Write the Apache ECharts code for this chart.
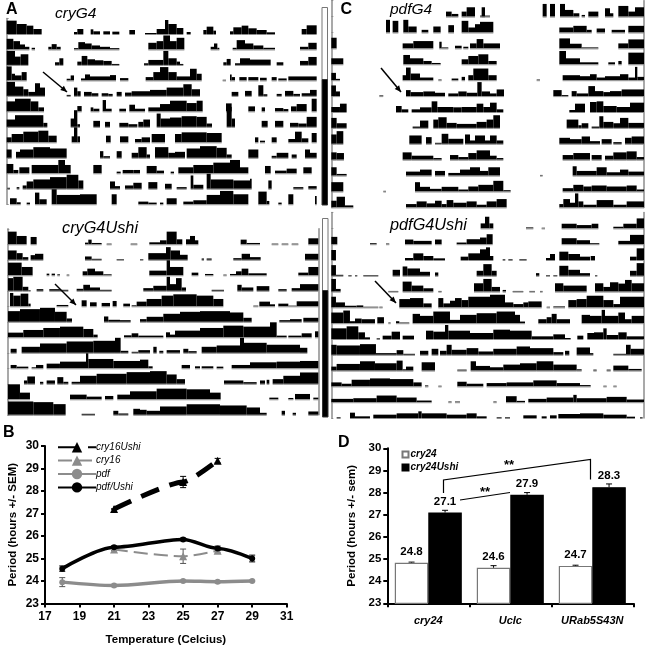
<!DOCTYPE html>
<html><head><meta charset="utf-8">
<style>html,body{margin:0;padding:0;background:#fff}#c{width:647px;height:650px}</style>
<script src="https://cdn.jsdelivr.net/npm/echarts@6/dist/echarts.min.js"></script></head>
<body><div id="c"></div>
<script>
// Actogram rows: each segment is [start bin, end bin, activity]
const cryG4 = [
[[20,50,40],[50,80,30],[80,100,25],[100,125,15],[222,232,6],[232,250,15],[272,280,14],[280,300,8],[310,330,8],[337,358,7],[388,405,12],[435,470,3],[470,495,15],[495,505,42],[505,530,30],[530,550,18],[560,572,6],[610,620,12],[620,640,22],[640,648,10],[690,700,8],[700,725,20],[725,745,25],[745,770,17],[770,800,12],[800,825,5],[905,920,15],[920,950,26]],
[[20,40,32],[40,60,25],[60,75,15],[75,88,8],[95,105,5],[145,155,8],[155,170,16],[170,182,8],[222,235,4],[235,255,22],[255,275,18],[275,300,12],[300,330,8],[330,358,4],[445,470,20],[470,490,25],[490,510,42],[510,530,25],[530,553,35],[632,642,8],[642,652,18],[652,658,5],[698,710,5],[710,735,28],[735,760,18],[760,790,12],[790,825,5],[900,925,8],[925,950,20]],
[[20,45,42],[45,62,25],[62,85,32],[165,178,8],[178,190,20],[232,245,10],[245,262,27],[262,285,17],[285,310,14],[310,335,12],[335,358,3],[432,445,5],[445,490,15],[490,505,42],[505,530,20],[530,540,10],[540,550,3],[670,680,8],[680,692,18],[705,720,5],[720,750,20],[750,812,16],[830,850,8],[900,925,12],[925,950,24]],
[[20,35,42],[35,45,20],[45,65,15],[65,80,25],[200,212,5],[212,222,15],[243,255,6],[255,270,18],[270,330,12],[330,348,16],[360,385,7],[437,460,10],[460,480,25],[480,505,40],[505,530,25],[530,570,12],[570,590,35],[590,605,20],[668,678,2],[690,695,18],[695,705,10],[718,740,10],[745,775,10],[780,800,8],[815,830,10],[835,860,6],[865,950,12]],
[[20,45,42],[45,70,28],[70,85,20],[85,105,12],[105,120,38],[120,135,25],[200,212,3],[222,232,25],[232,242,14],[252,275,12],[275,295,8],[305,325,8],[325,338,6],[350,365,12],[375,395,10],[395,450,14],[450,500,18],[500,550,25],[550,575,35],[575,600,20],[695,715,12],[735,755,15],[775,790,32],[790,802,5],[830,845,6],[855,880,15],[880,900,6],[905,930,8],[930,950,18]],
[[20,45,30],[45,92,38],[92,115,30],[115,132,12],[232,245,16],[272,280,12],[280,298,8],[308,318,34],[318,335,8],[358,378,8],[388,405,20],[405,435,8],[445,480,12],[480,510,22],[510,560,32],[560,590,25],[590,608,32],[678,695,24],[745,765,15],[785,795,12],[825,850,10],[850,865,7],[873,890,15],[890,920,22],[935,950,38]],
[[20,45,22],[45,130,35],[130,142,12],[212,222,25],[222,232,50],[232,240,8],[280,300,18],[315,330,15],[358,385,12],[385,412,8],[415,430,15],[430,450,22],[470,482,40],[482,510,25],[510,545,28],[545,590,32],[590,620,30],[620,636,10],[680,695,60],[695,705,25],[785,803,18],[825,850,18],[870,895,12],[895,920,10],[920,950,30]],
[[20,35,15],[35,70,25],[70,115,32],[115,145,35],[145,170,20],[215,222,18],[222,232,45],[232,240,18],[318,332,20],[360,385,18],[405,425,10],[425,450,15],[455,495,25],[525,545,25],[545,620,30],[620,665,28],[765,775,15],[780,795,5],[815,830,15],[865,885,10],[885,905,32],[905,925,12],[935,950,28]],
[[20,35,25],[48,60,18],[60,100,25],[100,150,32],[150,200,28],[300,310,20],[310,330,5],[350,365,20],[395,415,15],[415,440,32],[440,450,10],[465,505,32],[505,525,15],[525,555,18],[560,600,28],[600,650,35],[650,680,30],[680,695,10],[745,775,25],[815,830,6],[830,865,15],[875,890,10],[915,930,25],[930,950,15]],
[[20,40,28],[40,55,10],[58,88,18],[95,175,25],[175,195,40],[195,212,25],[280,305,25],[350,362,5],[368,400,10],[400,420,10],[440,470,22],[470,492,8],[512,522,5],[535,580,18],[580,640,25],[640,690,32],[690,720,40],[720,745,18],[795,812,22],[825,860,8],[860,890,14],[910,935,18]],
[[22,30,3],[50,58,5],[68,80,10],[80,100,22],[100,150,28],[150,200,35],[200,235,42],[235,250,25],[330,345,22],[345,360,8],[375,400,10],[400,425,18],[445,472,20],[495,515,15],[530,560,5],[572,580,40],[580,610,12],[620,632,45],[632,700,28],[700,750,25],[750,755,30],[805,815,25],[880,910,5],[925,950,8]],
[[30,50,18],[50,62,6],[80,90,5],[105,118,35],[118,140,15],[155,170,45],[170,240,28],[240,290,30],[335,350,30],[415,445,8],[445,470,5],[480,490,5],[500,530,18],[550,580,8],[580,620,12],[620,660,28],[660,700,40],[700,745,30],[775,800,38],[800,808,10],[835,845,5],[865,880,30],[945,950,25]]
];
const pdfG4 = [
[[378,395,15],[395,415,8],[425,440,15],[440,465,28],[485,495,28],[480,510,3],[668,680,38],[690,705,38],[720,735,38],[735,760,20],[760,778,10],[785,795,5],[805,835,15],[855,870,25],[870,880,10],[895,925,32],[925,945,15],[945,972,28]],
[[198,210,38],[218,235,35],[250,265,38],[265,290,18],[305,325,8],[340,362,18],[385,402,22],[425,445,35],[445,465,15],[465,480,25],[480,520,32],[718,760,15],[760,800,20],[800,815,8],[830,855,12],[875,915,8],[925,972,20]],
[[34,50,32],[248,280,15],[280,340,22],[358,365,20],[365,385,3],[405,425,8],[430,445,5],[450,470,15],[470,490,28],[490,540,15],[718,750,30],[750,785,14],[785,835,3],[895,925,15],[925,972,27]],
[[34,70,18],[250,270,28],[270,310,18],[310,335,10],[335,362,4],[425,445,15],[445,475,25],[475,505,30],[505,530,10],[718,738,40],[738,780,18],[780,835,6],[865,885,6],[895,905,10],[925,972,35]],
[[34,48,22],[48,60,4],[248,258,15],[258,272,38],[272,300,20],[300,340,8],[355,365,2],[395,415,5],[425,435,10],[445,460,15],[460,505,35],[505,530,15],[650,660,2],[728,780,15],[780,810,12],[810,830,18],[830,855,8],[855,900,12],[900,925,18],[925,945,8],[945,952,40],[952,972,10]],
[[34,48,32],[48,60,14],[178,190,2],[258,272,18],[272,310,12],[310,345,14],[345,375,10],[385,415,8],[415,440,14],[440,472,10],[472,485,42],[485,510,14],[510,530,8],[530,552,20],[700,725,18],[725,745,3],[755,770,15],[770,805,8],[805,825,30],[825,850,15],[850,870,12],[870,905,15],[905,972,20]],
[[34,60,15],[60,80,25],[228,245,18],[245,265,8],[275,300,8],[300,335,14],[335,352,32],[352,400,15],[400,425,14],[425,470,15],[470,490,25],[490,510,15],[510,530,28],[530,550,8],[748,765,6],[765,795,25],[810,830,30],[830,850,32],[850,890,18],[890,930,15],[930,972,28]],
[[34,50,30],[50,80,14],[278,300,4],[300,325,22],[340,355,25],[355,380,32],[380,410,15],[410,470,12],[470,500,18],[500,520,25],[520,540,38],[740,775,25],[775,785,8],[785,805,14],[815,838,4],[838,850,35],[850,880,18],[880,900,14],[900,925,30],[925,972,15]],
[[34,50,28],[50,70,38],[268,305,25],[318,335,20],[345,365,3],[365,385,30],[385,430,15],[435,450,28],[450,465,10],[465,495,25],[495,510,10],[510,530,25],[530,550,10],[718,750,18],[750,785,14],[785,810,22],[810,840,8],[845,875,14],[880,905,5],[915,935,18],[935,972,22]],
[[34,50,22],[50,72,20],[248,275,22],[275,340,12],[340,365,5],[390,415,14],[415,445,8],[445,470,20],[470,510,28],[510,530,12],[530,550,5],[728,760,14],[760,810,20],[815,845,14],[855,880,12],[880,920,22],[920,950,25],[950,972,8]],
[[34,50,25],[50,80,5],[258,300,12],[300,335,18],[345,375,14],[385,420,8],[420,450,18],[450,480,25],[480,505,14],[505,540,25],[660,668,2],[758,770,28],[770,830,14],[830,860,25],[860,900,10],[900,925,18],[925,972,12]],
[[34,70,28],[190,198,2],[285,300,28],[300,330,14],[330,365,8],[365,415,14],[415,445,6],[445,475,15],[475,520,20],[520,550,32],[550,572,4],[728,760,10],[760,790,20],[790,815,15],[815,860,18],[860,920,15],[920,950,18],[950,972,6]],
[[34,50,20],[50,75,32],[75,100,6],[258,290,10],[290,320,18],[320,345,12],[345,365,20],[365,380,10],[380,400,22],[400,440,14],[440,470,18],[470,500,8],[500,530,18],[530,560,25],[718,730,10],[730,750,25],[750,765,14],[765,775,42],[775,790,18],[790,830,8],[830,880,22],[880,920,8],[920,972,18]]
];
const cryG4Ushi = [
[[24,50,38],[50,80,25],[92,110,22],[255,265,5],[265,275,14],[275,305,4],[320,335,2],[392,412,2],[448,480,6],[480,500,12],[500,530,38],[530,547,15],[558,570,15],[570,585,25],[585,595,12],[722,740,14],[740,780,4],[815,835,2],[845,865,2],[875,895,2],[925,955,18]],
[[24,50,28],[50,68,20],[68,85,8],[92,105,14],[105,130,18],[255,275,10],[275,305,3],[350,372,2],[420,430,2],[445,498,20],[498,512,38],[512,540,28],[540,563,15],[605,612,4],[620,635,4],[700,725,5],[725,750,18],[750,782,8],[915,955,18]],
[[24,65,38],[65,98,25],[140,148,5],[155,165,5],[172,180,3],[200,208,2],[248,262,12],[262,285,20],[285,310,12],[310,335,3],[448,500,14],[500,510,45],[510,550,25],[575,595,8],[615,640,4],[670,680,2],[690,708,4],[708,725,12],[725,745,20],[745,800,6],[895,925,8],[925,955,25]],
[[24,40,38],[40,68,42],[68,85,12],[85,92,2],[110,130,5],[148,180,5],[180,205,3],[230,250,6],[250,270,18],[270,300,10],[300,335,3],[430,460,8],[460,500,15],[500,510,42],[510,528,20],[528,545,38],[545,558,10],[635,672,3],[712,725,18],[725,760,10],[770,808,14],[835,860,5],[875,900,8],[900,955,20]],
[[30,40,40],[40,62,32],[62,85,38],[85,92,8],[170,205,4],[245,260,18],[270,290,12],[305,330,10],[338,350,16],[370,390,8],[395,410,3],[410,440,14],[440,485,22],[485,520,32],[520,590,36],[590,640,32],[640,670,22],[760,775,2],[778,810,14],[810,825,6],[835,865,8],[865,890,2],[890,955,15]],
[[24,60,32],[60,120,38],[120,165,42],[165,200,30],[200,216,10],[312,325,16],[325,360,6],[360,392,5],[420,440,8],[440,490,15],[490,540,24],[540,600,30],[600,690,32],[690,730,28],[730,755,12],[838,870,5],[870,905,8],[910,955,12]],
[[24,70,14],[70,130,22],[130,180,28],[180,250,32],[250,280,25],[280,293,8],[372,395,6],[395,415,12],[415,490,5],[498,510,15],[510,525,8],[525,600,20],[600,670,28],[670,730,35],[730,810,32],[810,830,45],[830,860,5],[865,905,5],[905,935,12],[945,955,18]],
[[32,50,12],[65,120,18],[120,200,28],[200,280,34],[280,345,36],[345,362,45],[362,385,6],[395,415,3],[415,450,8],[460,470,18],[478,490,6],[500,540,8],[550,565,12],[565,590,5],[605,650,18],[650,720,22],[720,732,45],[732,800,30],[800,900,24],[900,922,15]],
[[32,50,10],[50,85,5],[95,108,3],[108,130,10],[140,180,14],[180,258,20],[258,265,45],[265,340,28],[340,420,22],[420,445,26],[445,458,6],[545,570,10],[585,600,6],[605,640,6],[650,670,5],[695,750,10],[750,830,18],[830,900,20],[900,955,22]],
[[72,82,10],[82,105,22],[120,130,6],[140,165,10],[172,190,20],[190,205,6],[215,240,6],[240,290,24],[290,380,30],[380,450,35],[450,500,38],[500,530,28],[530,555,14],[672,730,10],[730,770,5],[780,795,10],[800,808,12],[818,850,14],[850,900,24],[900,955,34]],
[[24,60,45],[60,90,20],[210,260,14],[260,305,8],[315,340,10],[352,390,14],[390,470,24],[470,560,32],[560,630,30],[630,662,20],[808,835,5],[865,880,4],[885,930,16],[940,955,5]],
[[24,100,40],[100,160,38],[160,197,32],[245,285,3],[340,355,12],[355,385,4],[400,420,18],[420,440,15],[440,480,12],[480,560,25],[560,660,32],[660,740,28],[740,780,22],[780,800,6],[845,855,12],[878,888,6],[925,955,10]]
];
const pdfG4Ushi = [
[[482,495,15],[495,508,35],[508,520,15],[618,640,3],[665,675,2],[725,770,14],[770,815,10],[815,835,14],[880,910,5],[910,950,14],[950,972,30]],
[[34,52,22],[150,170,3],[198,208,2],[255,280,14],[280,335,10],[345,365,14],[410,440,5],[440,480,15],[480,500,20],[500,518,30],[725,770,18],[770,810,12],[810,838,3],[895,930,10],[930,972,28]],
[[34,48,30],[255,280,6],[280,310,20],[310,340,12],[340,375,5],[422,445,10],[445,480,20],[480,498,32],[498,510,38],[510,520,12],[548,556,2],[565,578,2],[598,620,2],[678,690,6],[690,705,18],[718,745,25],[745,780,18],[780,810,10],[812,825,12],[930,950,10],[950,972,35]],
[[34,48,32],[48,70,3],[85,95,2],[105,112,2],[130,175,2],[218,240,18],[248,262,28],[262,300,22],[300,330,12],[345,355,10],[470,490,15],[490,515,35],[515,530,15],[648,658,8],[678,690,2],[700,712,2],[718,745,30],[745,780,18],[780,810,8],[825,832,2],[930,950,15],[950,972,38]],
[[34,48,38],[48,62,8],[205,235,2],[248,275,30],[275,310,18],[310,340,10],[355,365,2],[462,490,25],[490,515,38],[515,540,14],[548,558,5],[578,610,2],[628,645,2],[660,668,2],[705,730,25],[730,800,18],[825,850,25],[850,870,14],[870,895,28],[895,915,24],[915,935,35],[935,972,25]],
[[34,48,32],[48,75,15],[75,110,5],[110,130,6],[130,175,2],[178,188,2],[238,270,25],[270,310,28],[310,335,12],[355,370,28],[370,390,12],[390,405,20],[405,425,28],[425,445,22],[445,510,32],[510,555,38],[555,580,15],[580,610,10],[610,625,15],[625,665,18],[680,690,2],[700,735,3],[745,770,22],[770,800,25],[800,850,35],[850,880,22],[880,900,10],[900,972,32]],
[[34,70,32],[70,90,38],[90,105,6],[105,125,14],[125,165,12],[172,192,18],[205,212,2],[228,238,6],[238,268,2],[278,300,28],[300,340,22],[340,390,35],[390,420,10],[420,470,25],[470,530,30],[530,585,35],[585,600,25],[600,615,5],[655,680,12],[680,695,18],[695,710,28],[710,750,12],[785,810,25],[810,845,22],[845,855,40],[855,895,22],[895,915,32],[915,935,12],[935,972,22]],
[[34,80,32],[80,115,38],[115,135,20],[135,150,5],[170,180,2],[188,215,10],[215,240,22],[248,282,10],[318,340,25],[340,375,22],[375,385,42],[385,450,25],[450,520,18],[520,570,28],[570,635,25],[635,700,8],[700,735,14],[735,752,3],[772,790,10],[802,822,18],[822,850,20],[850,860,32],[860,895,12],[895,920,20],[920,972,8]],
[[34,50,30],[50,120,28],[120,168,32],[168,230,5],[230,250,14],[250,285,3],[300,325,12],[335,355,18],[360,380,12],[380,395,30],[395,440,15],[440,475,20],[475,520,10],[520,590,18],[590,630,25],[630,700,20],[700,730,8],[735,748,12],[770,810,22],[810,820,5],[880,918,3],[918,932,30],[932,972,18]],
[[34,50,12],[50,120,20],[120,165,28],[165,230,22],[230,248,30],[248,258,4],[258,280,12],[305,345,25],[412,440,3],[452,468,28],[468,510,14],[510,550,10],[550,600,18],[600,650,22],[650,700,28],[700,770,18],[770,785,4],[820,830,3],[860,872,3],[880,925,15],[925,965,5]],
[[34,65,12],[65,95,8],[95,150,20],[150,210,24],[210,280,22],[280,305,12],[315,325,3],[355,365,2],[412,440,14],[440,490,8],[500,560,10],[560,640,12],[640,710,18],[710,780,10],[780,812,4],[850,860,2],[880,890,2]],
[[34,100,10],[100,170,12],[170,230,20],[230,290,14],[290,335,5],[385,395,2],[405,420,2],[520,530,2],[558,590,18],[590,615,4],[625,680,10],[680,760,14],[760,770,22],[770,860,12],[860,920,16],[920,972,8]],
[[50,62,2],[90,105,16],[105,150,5],[160,230,10],[230,295,14],[295,305,20],[305,380,14],[380,440,10],[440,470,14],[470,500,5],[530,545,2],[555,570,2],[610,650,8],[665,680,5],[690,710,8],[715,780,12],[780,850,14],[850,920,10],[920,945,4],[960,968,2]]
];

// Panel B
const tempTicks = [17,19,21,23,25,27,29,31];
const cry16Ushi = [[21,27.2],[25,28.4],[27,29.35]];
const cry16Ushi_err = [0,0.25,0.1];
const cry16 = [[21,25.4],[25,25.1],[27,25.35]];
const cry16_err = [0.05,0.32,0.1];
const pdf = [[18,23.95],[21,23.8],[25,24.0],[27,23.97],[29,24.0]];
const pdf_err = [0.2,0.05,0.03,0.05,0.03];
const pdfUshi = [[18,24.55],[21,25.5],[25,25.85],[27,25.45],[29,25.0]];
const pdfUshi_err = [0.12,0.06,0.06,0.1,0.15];

// Panel D
const strains = ['cry24','Uclc','URab5S43N'];
const cry24 = [24.83,24.6,24.69];
const cry24_err = [0.03,0.1,0.03];
const cry24_labels = ['24.8','24.6','24.7'];
const cry24Ushi = [27.1,27.9,28.24];
const cry24Ushi_err = [0.1,0.1,0.15];
const cry24Ushi_labels = ['27.1','27.9','28.3'];

const F = '"Liberation Sans", Arial, sans-serif';
const grids = [], xAxes = [], yAxes = [], series = [];

function actogram(rows, x0, x1, left, width, top, day, rightLine) {
  const g = grids.length;
  const last = rows.length - 1;
  grids.push({left, width, top: top, height: day * (last + 1)});
  xAxes.push({gridIndex: g, type: 'value', min: x0, max: x1, show: false});
  const axisLine = {show: true, lineStyle: {color: '#8c8c8c', width: 1.5}};
  yAxes.push({gridIndex: g, type: 'value', inverse: true, min: -1, max: last, interval: 1,
    axisLine, axisTick: {show: true, inside: true, length: 2, lineStyle: {color: '#8c8c8c'}},
    axisLabel: {show: false}, splitLine: {show: false}});
  if (rightLine) yAxes.push({gridIndex: g, type: 'value', position: 'right', inverse: true, min: -1, max: last, interval: 1,
    axisLine, axisTick: {show: false}, axisLabel: {show: false}, splitLine: {show: false}});
  const yIdx = yAxes.length - (rightLine ? 2 : 1);
  const data = [];
  rows.forEach((r, d) => r.forEach(s => data.push([s[0], s[1], d, s[2]])));
  series.push({
    type: 'custom', xAxisIndex: g, yAxisIndex: yIdx, clip: false, silent: true, animation: false,
    encode: {x: [0, 1], y: 2}, data,
    renderItem(p, api) {
      const a = api.coord([api.value(0), api.value(2)]);
      const b = api.coord([api.value(1), api.value(2)]);
      const h = api.value(3) * width / (x1 - x0);
      return {type: 'group', children: [
        {type: 'rect', shape: {x: a[0], y: a[1] - h, width: b[0] - a[0], height: h}, style: {fill: '#000'}},
        {type: 'rect', shape: {x: a[0], y: a[1], width: b[0] - a[0], height: 1}, style: {fill: '#8c8c8c'}}
      ]};
    }
  });
}
actogram(cryG4, 20, 950, 6.67, 310, 18.5, 15.48, false);
actogram(pdfG4, 34, 972, 331.3, 312.7, 0.7, 15.9, true);
actogram(cryG4Ushi, 22, 957, 7.3, 311.7, 228.8, 15.5, true);
actogram(pdfG4Ushi, 34, 972, 331.3, 312.7, 212.6, 15.8, true);

// Panel B
const gB = grids.length;
grids.push({left: 45, width: 241.7, top: 446, height: 157.5});
const axLine = {show: true, onZero: false, lineStyle: {color: '#000', width: 2}};
const axTick = {show: true, length: 4, lineStyle: {color: '#000', width: 2}};
xAxes.push({gridIndex: gB, type: 'value', min: tempTicks[0], max: tempTicks[tempTicks.length - 1], interval: 2,
  name: 'Temperature (Celcius)', nameLocation: 'middle', nameGap: 30,
  nameTextStyle: {fontFamily: F, fontWeight: 'bold', fontSize: 11.5, color: '#000'},
  axisLine: axLine, axisTick: axTick, splitLine: {show: false},
  axisLabel: {fontFamily: F, fontWeight: 'bold', fontSize: 12, color: '#000', margin: 7}});
yAxes.push({gridIndex: gB, type: 'value', min: 23, max: 30, interval: 1,
  name: 'Period (hours +/- SEM)', nameLocation: 'middle', nameGap: 26,
  nameTextStyle: {fontFamily: F, fontWeight: 'bold', fontSize: 11.5, color: '#000'},
  axisLine: axLine, axisTick: axTick, splitLine: {show: false},
  axisLabel: {fontFamily: F, fontWeight: 'bold', fontSize: 12, color: '#000', margin: 6}});
const yB = yAxes.length - 1;

function errB(vals, errs, color) {
  series.push({type: 'custom', xAxisIndex: gB, yAxisIndex: yB, silent: true, animation: false, z: 1,
    encode: {x: 0, y: [1, 2]}, data: vals.map((v, i) => [v[0], v[1] - errs[i], v[1] + errs[i]]),
    renderItem(p, api) {
      const a = api.coord([api.value(0), api.value(1)]), b = api.coord([api.value(0), api.value(2)]);
      const st = {stroke: color, lineWidth: 1, fill: null};
      return {type: 'group', children: [
        {type: 'line', shape: {x1: a[0], y1: a[1], x2: b[0], y2: b[1]}, style: st},
        {type: 'line', shape: {x1: a[0] - 3, y1: a[1], x2: a[0] + 3, y2: a[1]}, style: st},
        {type: 'line', shape: {x1: b[0] - 3, y1: b[1], x2: b[0] + 3, y2: b[1]}, style: st}
      ]};
    }});
}
errB(cry16Ushi, cry16Ushi_err, '#000');
errB(cry16, cry16_err, '#555');
errB(pdf, pdf_err, '#555');
errB(pdfUshi, pdfUshi_err, '#000');
function lineB(name, data, color, width, symbol, size, type, smooth, z) {
  series.push({name, type: 'line', xAxisIndex: gB, yAxisIndex: yB, data, smooth, smoothMonotone: 'x', symbol, symbolSize: size,
    animation: false, z,
    lineStyle: {color, width, type}, itemStyle: {color}});
}
lineB('cry16Ushi', cry16Ushi, '#000', 5, 'triangle', 8, [19, 11], 0.2, 3);
lineB('cry16', cry16, '#8c8c8c', 2, 'triangle', 8, [14, 6], 0.3, 2);
lineB('pdf', pdf, '#8c8c8c', 3.5, 'circle', 6, 'solid', 0.3, 3);
lineB('pdf/Ushi', pdfUshi, '#000', 3.5, 'circle', 6, 'solid', 0.3, 4);

// Panel D
const gD = grids.length;
grids.push({left: 387.3, width: 246, top: 448.3, height: 155});
xAxes.push({gridIndex: gD, type: 'category', data: strains,
  axisLine: axLine, axisTick: {show: true, length: 4, alignWithLabel: false, lineStyle: {color: '#000', width: 2}},
  axisLabel: {interval: 0, fontFamily: F, fontWeight: 'bold', fontStyle: 'italic', fontSize: 11, color: '#000', margin: 12}});
yAxes.push({gridIndex: gD, type: 'value', min: 23, max: 30, interval: 1,
  name: 'Period (hours +/- sem)', nameLocation: 'middle', nameGap: 29,
  nameTextStyle: {fontFamily: F, fontWeight: 'bold', fontSize: 11.5, color: '#000'},
  axisLine: axLine, axisTick: axTick, splitLine: {show: false},
  axisLabel: {fontFamily: F, fontWeight: 'bold', fontSize: 11.5, color: '#000', margin: 6}});
const yD = yAxes.length - 1;
function barD(name, data, labels, color, border) {
  series.push({name, type: 'bar', xAxisIndex: gD, yAxisIndex: yD, data, barWidth: 33.5, barGap: 0, animation: false,
    itemStyle: {color, borderColor: border, borderWidth: 1.2},
    label: {show: true, position: 'top', distance: 5, fontFamily: F, fontWeight: 'bold', fontSize: 11.5, color: '#000',
      formatter: p => labels[p.dataIndex]}});
}
barD('cry24', cry24, cry24_labels, '#fff', '#777');
barD('cry24Ushi', cry24Ushi, cry24Ushi_labels, '#000', '#000');
function errD(vals, errs, sign) {
  series.push({type: 'custom', xAxisIndex: gD, yAxisIndex: yD, silent: true, animation: false, z: 1,
    encode: {x: 0, y: [1, 2]}, data: vals.map((v, i) => [i, v, v + errs[i]]),
    renderItem(p, api) {
      const off = sign * 16.75;
      const a = api.coord([api.value(0), api.value(1)]), b = api.coord([api.value(0), api.value(2)]);
      const st = {stroke: '#000', lineWidth: 1, fill: null};
      return {type: 'group', children: [
        {type: 'line', shape: {x1: a[0] + off, y1: a[1], x2: b[0] + off, y2: b[1]}, style: st},
        {type: 'line', shape: {x1: b[0] + off - 3, y1: b[1], x2: b[0] + off + 3, y2: b[1]}, style: st}
      ]};
    }});
}
errD(cry24, cry24_err, -1);
errD(cry24Ushi, cry24Ushi_err, 1);

const txt = (x, y, text, font, align) => ({type: 'text', x, y, style: {text, font, fill: '#000', align: align || 'left', verticalAlign: 'middle'}, z: 50});
const seg = (pts, w) => ({type: 'polyline', shape: {points: pts}, style: {stroke: '#000', lineWidth: w || 1.5, fill: null}, z: 50});
const arrow = (x1, y1, x2, y2) => {
  const ang = Math.atan2(y2 - y1, x2 - x1), L = 7, a = 0.42;
  return [seg([[x1, y1], [x2, y2]], 1.5),
    {type: 'polygon', shape: {points: [[x2, y2], [x2 - L * Math.cos(ang - a), y2 - L * Math.sin(ang - a)], [x2 - L * Math.cos(ang + a), y2 - L * Math.sin(ang + a)]]}, style: {fill: '#000'}, z: 50}];
};
const ldBar = (x, top, mid, bot) => [
  {type: 'rect', shape: {x, y: top, width: 5.5, height: mid - top}, style: {fill: '#fff', stroke: '#777', lineWidth: 1}, z: 40},
  {type: 'rect', shape: {x, y: mid, width: 5.5, height: bot - mid}, style: {fill: '#000', stroke: '#333', lineWidth: 1}, z: 40}];
const it = 'italic 15.5px ' + F, itL = 'italic 16.3px ' + F, bl = 'bold 16px ' + F;
const graphics = [
  txt(6, 10, 'A', bl), txt(340.5, 10, 'C', bl), txt(3, 433, 'B', bl), txt(338, 443, 'D', bl),
  txt(55, 14, 'cryG4', it), txt(390, 10, 'pdfG4', it), txt(62, 228, 'cryG4Ushi', itL), txt(390, 225, 'pdfG4Ushi', itL),
  ...arrow(43, 72, 67, 92), ...arrow(381, 68, 401, 92), ...arrow(55, 284, 76, 305), ...arrow(375, 281, 396, 303),
  ...ldBar(322, 7.5, 79.5, 205), ...ldBar(322.5, 218.5, 290.5, 417),
  seg([[443.5, 493], [443.5, 480], [590.5, 459.5], [590.5, 479.5]], 1.2),
  seg([[460, 500], [510, 492.5]], 1.2),
  txt(509, 465, '**', 'bold 13px ' + F, 'center'), txt(485, 492, '**', 'bold 13px ' + F, 'center')
];

const chart = echarts.init(document.getElementById('c'), null, {renderer: 'canvas'});
chart.setOption({
  backgroundColor: '#fff', animation: false,
  grid: grids, xAxis: xAxes, yAxis: yAxes, series, graphic: graphics,
  legend: [
    {data: ['cry16Ushi', 'cry16', 'pdf', 'pdf/Ushi'], orient: 'vertical', left: 57, top: 442, padding: 0, itemWidth: 38, itemHeight: 13, itemGap: 3,
      selectedMode: false, textStyle: {fontFamily: F, fontStyle: 'italic', fontSize: 10, color: '#000', padding: [0, 0, 0, -5]}},
    {data: ['cry24', 'cry24Ushi'], orient: 'vertical', left: 401.5, top: 449.5, padding: 0, itemWidth: 6, itemHeight: 6, itemGap: 3,
      icon: 'rect', selectedMode: false, textStyle: {fontFamily: F, fontStyle: 'italic', fontWeight: 'bold', fontSize: 10, color: '#000', padding: [0, 0, 0, -3]}}
  ]
});
</script></body></html>
